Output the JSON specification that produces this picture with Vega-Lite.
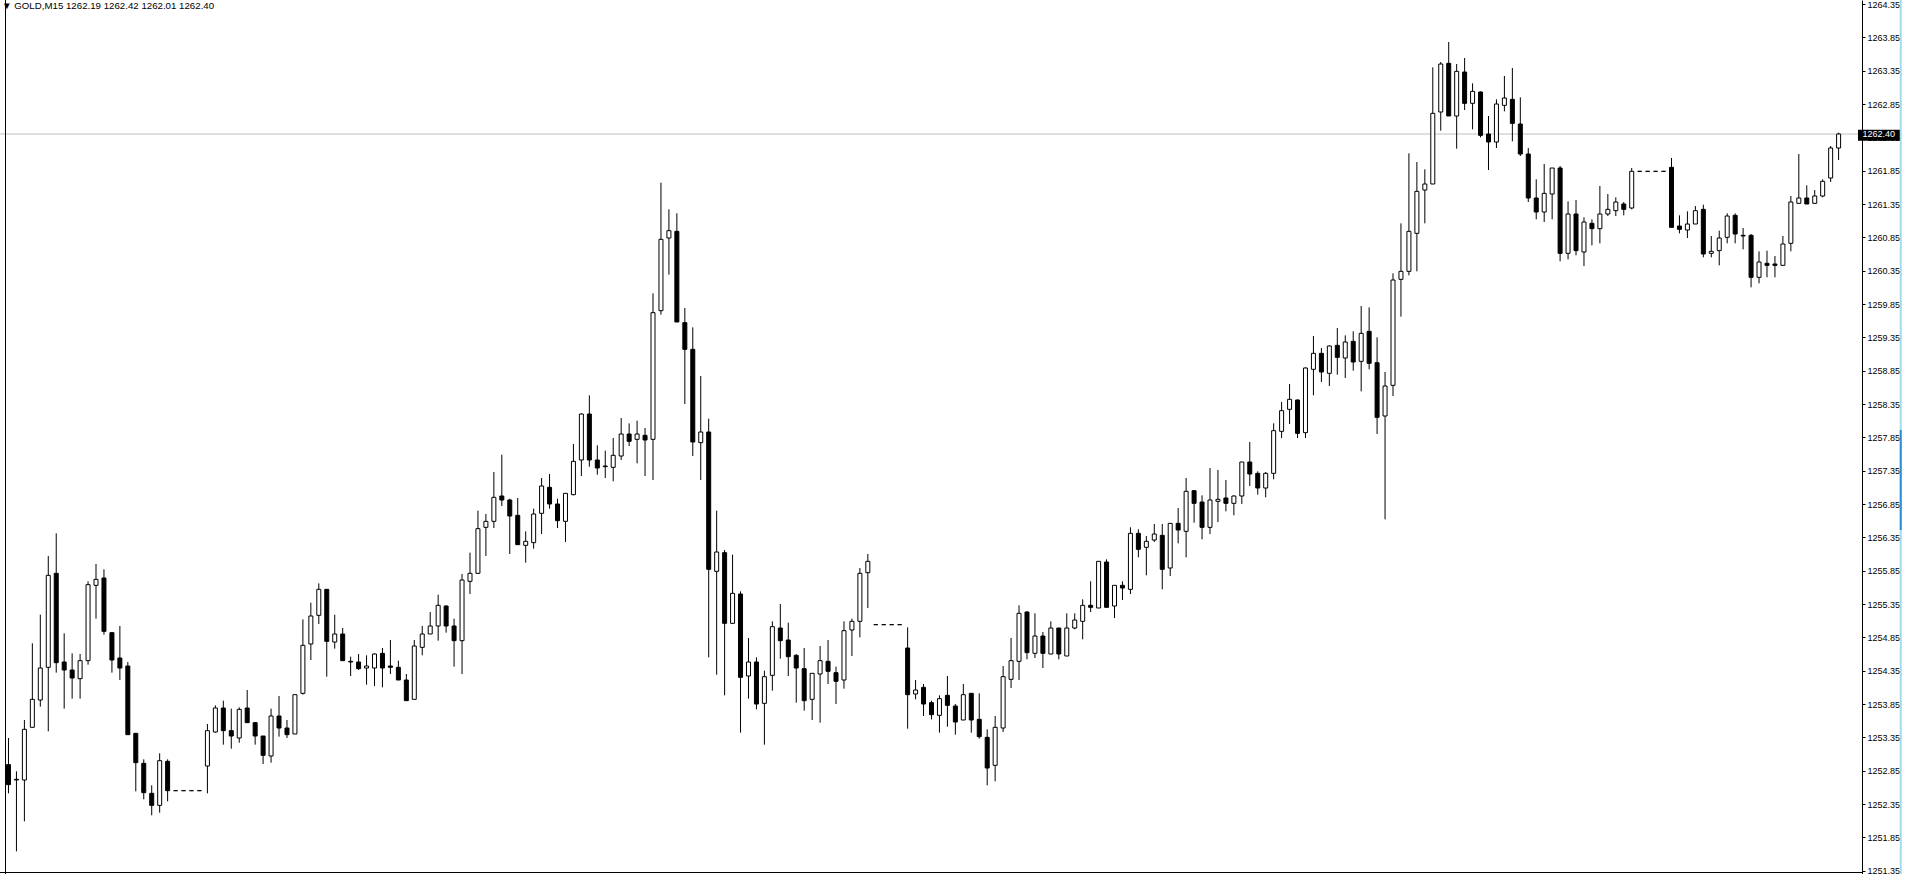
{
"$schema": "https://vega.github.io/schema/vega-lite/v6.json",
"width": 1862, "height": 874,
"autosize": {"type": "none"},
"padding": {"left": 0, "top": 0, "bottom": 0, "right": 48},
"background": "white",
"config": {"view": {"stroke": null}},
"title": {"text": "▼ GOLD,M15  1262.19 1262.42 1262.01 1262.40", "anchor": "start", "frame": "group", "orient": "top", "offset": -20, "baseline": "alphabetic", "dx": 2, "font": "Liberation Sans", "fontSize": 9.7, "fontWeight": "normal", "color": "black"},
"data": {"values": [
{"i":0,"o":1252.94,"h":1253.34,"l":1252.51,"c":1252.64},
{"i":1,"o":1252.72,"h":1252.84,"l":1251.64,"c":1252.71},
{"i":2,"o":1252.71,"h":1253.61,"l":1252.09,"c":1253.47},
{"i":3,"o":1253.50,"h":1254.76,"l":1253.50,"c":1253.92},
{"i":4,"o":1253.91,"h":1255.19,"l":1253.81,"c":1254.39},
{"i":5,"o":1254.40,"h":1256.07,"l":1253.44,"c":1255.78},
{"i":6,"o":1255.81,"h":1256.41,"l":1254.32,"c":1254.47},
{"i":7,"o":1254.48,"h":1254.91,"l":1253.78,"c":1254.36},
{"i":8,"o":1254.36,"h":1254.61,"l":1253.93,"c":1254.24},
{"i":9,"o":1254.23,"h":1254.60,"l":1253.93,"c":1254.50},
{"i":10,"o":1254.50,"h":1255.69,"l":1254.44,"c":1255.64},
{"i":11,"o":1255.63,"h":1255.95,"l":1255.13,"c":1255.72},
{"i":12,"o":1255.74,"h":1255.87,"l":1254.89,"c":1254.94},
{"i":13,"o":1254.92,"h":1254.92,"l":1254.32,"c":1254.51},
{"i":14,"o":1254.54,"h":1255.02,"l":1254.21,"c":1254.39},
{"i":15,"o":1254.42,"h":1254.48,"l":1253.39,"c":1253.39},
{"i":16,"o":1253.41,"h":1253.41,"l":1252.54,"c":1252.97},
{"i":17,"o":1252.96,"h":1253.02,"l":1252.42,"c":1252.52},
{"i":18,"o":1252.51,"h":1252.63,"l":1252.18,"c":1252.33},
{"i":19,"o":1252.33,"h":1253.11,"l":1252.22,"c":1253.00},
{"i":20,"o":1252.99,"h":1253.02,"l":1252.39,"c":1252.55},
{"i":21,"o":1252.55,"h":1252.55,"l":1252.55,"c":1252.55},
{"i":22,"o":1252.55,"h":1252.55,"l":1252.55,"c":1252.55},
{"i":23,"o":1252.55,"h":1252.55,"l":1252.55,"c":1252.55},
{"i":24,"o":1252.55,"h":1252.55,"l":1252.55,"c":1252.55},
{"i":25,"o":1252.92,"h":1253.55,"l":1252.51,"c":1253.45},
{"i":26,"o":1253.43,"h":1253.83,"l":1253.42,"c":1253.79},
{"i":27,"o":1253.79,"h":1253.90,"l":1253.24,"c":1253.45},
{"i":28,"o":1253.45,"h":1253.78,"l":1253.18,"c":1253.37},
{"i":29,"o":1253.34,"h":1253.80,"l":1253.27,"c":1253.77},
{"i":30,"o":1253.79,"h":1254.06,"l":1253.57,"c":1253.57},
{"i":31,"o":1253.57,"h":1253.58,"l":1253.24,"c":1253.37},
{"i":32,"o":1253.37,"h":1253.37,"l":1252.95,"c":1253.08},
{"i":33,"o":1253.07,"h":1253.78,"l":1252.97,"c":1253.67},
{"i":34,"o":1253.67,"h":1253.97,"l":1253.36,"c":1253.49},
{"i":35,"o":1253.49,"h":1253.61,"l":1253.34,"c":1253.39},
{"i":36,"o":1253.40,"h":1253.99,"l":1253.40,"c":1253.99},
{"i":37,"o":1254.01,"h":1255.12,"l":1253.99,"c":1254.73},
{"i":38,"o":1254.75,"h":1255.37,"l":1254.51,"c":1255.17},
{"i":39,"o":1255.18,"h":1255.66,"l":1255.05,"c":1255.57},
{"i":40,"o":1255.57,"h":1255.57,"l":1254.26,"c":1254.79},
{"i":41,"o":1254.78,"h":1255.19,"l":1254.68,"c":1254.90},
{"i":42,"o":1254.90,"h":1254.99,"l":1254.50,"c":1254.50},
{"i":43,"o":1254.49,"h":1254.56,"l":1254.27,"c":1254.48},
{"i":44,"o":1254.48,"h":1254.60,"l":1254.36,"c":1254.38},
{"i":45,"o":1254.39,"h":1254.58,"l":1254.14,"c":1254.42},
{"i":46,"o":1254.39,"h":1254.61,"l":1254.12,"c":1254.60},
{"i":47,"o":1254.61,"h":1254.69,"l":1254.10,"c":1254.39},
{"i":48,"o":1254.42,"h":1254.81,"l":1254.30,"c":1254.40},
{"i":49,"o":1254.40,"h":1254.50,"l":1254.21,"c":1254.21},
{"i":50,"o":1254.21,"h":1254.30,"l":1253.90,"c":1253.90},
{"i":51,"o":1253.92,"h":1254.81,"l":1253.92,"c":1254.72},
{"i":52,"o":1254.70,"h":1255.02,"l":1254.58,"c":1254.90},
{"i":53,"o":1254.90,"h":1255.23,"l":1254.90,"c":1255.02},
{"i":54,"o":1255.02,"h":1255.49,"l":1254.80,"c":1255.33},
{"i":55,"o":1255.32,"h":1255.33,"l":1254.92,"c":1255.02},
{"i":56,"o":1255.02,"h":1255.13,"l":1254.41,"c":1254.80},
{"i":57,"o":1254.80,"h":1255.80,"l":1254.30,"c":1255.71},
{"i":58,"o":1255.69,"h":1256.12,"l":1255.50,"c":1255.81},
{"i":59,"o":1255.81,"h":1256.75,"l":1255.80,"c":1256.48},
{"i":60,"o":1256.50,"h":1256.70,"l":1256.07,"c":1256.59},
{"i":61,"o":1256.59,"h":1257.33,"l":1256.49,"c":1256.95},
{"i":62,"o":1256.97,"h":1257.59,"l":1256.82,"c":1256.91},
{"i":63,"o":1256.91,"h":1256.93,"l":1256.10,"c":1256.67},
{"i":64,"o":1256.68,"h":1256.94,"l":1256.24,"c":1256.24},
{"i":65,"o":1256.23,"h":1256.44,"l":1255.97,"c":1256.29},
{"i":66,"o":1256.27,"h":1256.78,"l":1256.18,"c":1256.70},
{"i":67,"o":1256.71,"h":1257.24,"l":1256.40,"c":1257.12},
{"i":68,"o":1257.10,"h":1257.30,"l":1256.78,"c":1256.85},
{"i":69,"o":1256.85,"h":1256.93,"l":1256.49,"c":1256.60},
{"i":70,"o":1256.59,"h":1257.01,"l":1256.28,"c":1257.01},
{"i":71,"o":1256.99,"h":1257.75,"l":1256.98,"c":1257.49},
{"i":72,"o":1257.51,"h":1258.21,"l":1257.27,"c":1258.20},
{"i":73,"o":1258.20,"h":1258.48,"l":1257.41,"c":1257.51},
{"i":74,"o":1257.51,"h":1257.73,"l":1257.29,"c":1257.39},
{"i":75,"o":1257.42,"h":1257.65,"l":1257.24,"c":1257.41},
{"i":76,"o":1257.40,"h":1257.84,"l":1257.19,"c":1257.58},
{"i":77,"o":1257.57,"h":1258.14,"l":1257.51,"c":1257.90},
{"i":78,"o":1257.90,"h":1258.06,"l":1257.72,"c":1257.79},
{"i":79,"o":1257.82,"h":1258.10,"l":1257.46,"c":1257.90},
{"i":80,"o":1257.88,"h":1257.99,"l":1257.27,"c":1257.81},
{"i":81,"o":1257.82,"h":1260.01,"l":1257.21,"c":1259.72},
{"i":82,"o":1259.75,"h":1261.67,"l":1259.69,"c":1260.82},
{"i":83,"o":1260.84,"h":1261.27,"l":1260.29,"c":1260.95},
{"i":84,"o":1260.94,"h":1261.21,"l":1259.58,"c":1259.58},
{"i":85,"o":1259.57,"h":1259.79,"l":1258.35,"c":1259.17},
{"i":86,"o":1259.17,"h":1259.50,"l":1257.57,"c":1257.78},
{"i":87,"o":1257.77,"h":1258.77,"l":1257.21,"c":1257.93},
{"i":88,"o":1257.93,"h":1258.13,"l":1254.55,"c":1255.87},
{"i":89,"o":1255.84,"h":1256.75,"l":1254.29,"c":1256.13},
{"i":90,"o":1256.12,"h":1256.16,"l":1253.98,"c":1255.06},
{"i":91,"o":1255.06,"h":1256.09,"l":1255.05,"c":1255.51},
{"i":92,"o":1255.50,"h":1255.54,"l":1253.42,"c":1254.25},
{"i":93,"o":1254.27,"h":1254.84,"l":1253.93,"c":1254.48},
{"i":94,"o":1254.48,"h":1254.55,"l":1253.77,"c":1253.85},
{"i":95,"o":1253.86,"h":1254.35,"l":1253.24,"c":1254.26},
{"i":96,"o":1254.28,"h":1255.09,"l":1254.05,"c":1255.01},
{"i":97,"o":1254.99,"h":1255.35,"l":1254.53,"c":1254.80},
{"i":98,"o":1254.81,"h":1255.07,"l":1254.27,"c":1254.56},
{"i":99,"o":1254.58,"h":1254.60,"l":1253.87,"c":1254.39},
{"i":100,"o":1254.38,"h":1254.69,"l":1253.75,"c":1253.90},
{"i":101,"o":1253.92,"h":1254.31,"l":1253.61,"c":1254.31},
{"i":102,"o":1254.30,"h":1254.72,"l":1253.57,"c":1254.50},
{"i":103,"o":1254.49,"h":1254.81,"l":1254.15,"c":1254.34},
{"i":104,"o":1254.32,"h":1254.41,"l":1253.85,"c":1254.19},
{"i":105,"o":1254.21,"h":1255.09,"l":1254.08,"c":1254.95},
{"i":106,"o":1254.96,"h":1255.13,"l":1254.57,"c":1255.09},
{"i":107,"o":1255.09,"h":1255.89,"l":1254.85,"c":1255.81},
{"i":108,"o":1255.82,"h":1256.10,"l":1255.29,"c":1255.99},
{"i":109,"o":1255.04,"h":1255.04,"l":1255.04,"c":1255.04},
{"i":110,"o":1255.04,"h":1255.04,"l":1255.04,"c":1255.04},
{"i":111,"o":1255.04,"h":1255.04,"l":1255.04,"c":1255.04},
{"i":112,"o":1255.04,"h":1255.04,"l":1255.04,"c":1255.04},
{"i":113,"o":1254.69,"h":1255.00,"l":1253.48,"c":1253.99},
{"i":114,"o":1254.00,"h":1254.21,"l":1253.92,"c":1254.06},
{"i":115,"o":1254.10,"h":1254.15,"l":1253.67,"c":1253.85},
{"i":116,"o":1253.87,"h":1253.90,"l":1253.62,"c":1253.69},
{"i":117,"o":1253.68,"h":1253.98,"l":1253.42,"c":1253.93},
{"i":118,"o":1253.98,"h":1254.27,"l":1253.51,"c":1253.83},
{"i":119,"o":1253.82,"h":1253.85,"l":1253.39,"c":1253.58},
{"i":120,"o":1253.61,"h":1254.15,"l":1253.61,"c":1253.99},
{"i":121,"o":1254.01,"h":1254.01,"l":1253.42,"c":1253.61},
{"i":122,"o":1253.62,"h":1254.01,"l":1253.33,"c":1253.36},
{"i":123,"o":1253.35,"h":1253.47,"l":1252.63,"c":1252.89},
{"i":124,"o":1252.93,"h":1253.67,"l":1252.69,"c":1253.50},
{"i":125,"o":1253.49,"h":1254.42,"l":1253.43,"c":1254.26},
{"i":126,"o":1254.22,"h":1254.84,"l":1254.09,"c":1254.50},
{"i":127,"o":1254.49,"h":1255.33,"l":1254.21,"c":1255.21},
{"i":128,"o":1255.23,"h":1255.24,"l":1254.52,"c":1254.62},
{"i":129,"o":1254.61,"h":1255.21,"l":1254.54,"c":1254.87},
{"i":130,"o":1254.87,"h":1254.93,"l":1254.39,"c":1254.61},
{"i":131,"o":1254.60,"h":1255.09,"l":1254.60,"c":1254.99},
{"i":132,"o":1254.99,"h":1254.99,"l":1254.52,"c":1254.60},
{"i":133,"o":1254.57,"h":1255.21,"l":1254.57,"c":1254.99},
{"i":134,"o":1254.99,"h":1255.21,"l":1254.97,"c":1255.11},
{"i":135,"o":1255.09,"h":1255.42,"l":1254.82,"c":1255.33},
{"i":136,"o":1255.33,"h":1255.69,"l":1255.23,"c":1255.30},
{"i":137,"o":1255.29,"h":1255.99,"l":1255.29,"c":1255.99},
{"i":138,"o":1255.98,"h":1256.02,"l":1255.30,"c":1255.30},
{"i":139,"o":1255.32,"h":1255.63,"l":1255.14,"c":1255.63},
{"i":140,"o":1255.63,"h":1255.69,"l":1255.41,"c":1255.59},
{"i":141,"o":1255.57,"h":1256.50,"l":1255.50,"c":1256.41},
{"i":142,"o":1256.41,"h":1256.47,"l":1256.05,"c":1256.17},
{"i":143,"o":1256.20,"h":1256.37,"l":1255.78,"c":1256.29},
{"i":144,"o":1256.31,"h":1256.55,"l":1256.28,"c":1256.40},
{"i":145,"o":1256.38,"h":1256.55,"l":1255.57,"c":1255.87},
{"i":146,"o":1255.89,"h":1256.56,"l":1255.77,"c":1256.56},
{"i":147,"o":1256.56,"h":1256.79,"l":1256.26,"c":1256.46},
{"i":148,"o":1256.44,"h":1257.24,"l":1256.05,"c":1257.04},
{"i":149,"o":1257.05,"h":1257.05,"l":1256.57,"c":1256.86},
{"i":150,"o":1256.88,"h":1256.98,"l":1256.32,"c":1256.50},
{"i":151,"o":1256.50,"h":1257.39,"l":1256.40,"c":1256.91},
{"i":152,"o":1256.89,"h":1257.36,"l":1256.58,"c":1256.92},
{"i":153,"o":1256.94,"h":1257.21,"l":1256.74,"c":1256.86},
{"i":154,"o":1256.86,"h":1256.98,"l":1256.68,"c":1256.97},
{"i":155,"o":1256.97,"h":1257.48,"l":1256.85,"c":1257.48},
{"i":156,"o":1257.48,"h":1257.78,"l":1257.12,"c":1257.30},
{"i":157,"o":1257.31,"h":1257.34,"l":1256.99,"c":1257.09},
{"i":158,"o":1257.09,"h":1257.33,"l":1256.95,"c":1257.31},
{"i":159,"o":1257.31,"h":1258.06,"l":1257.22,"c":1257.95},
{"i":160,"o":1257.94,"h":1258.38,"l":1257.84,"c":1258.25},
{"i":161,"o":1258.27,"h":1258.65,"l":1258.05,"c":1258.42},
{"i":162,"o":1258.41,"h":1258.42,"l":1257.84,"c":1257.91},
{"i":163,"o":1257.92,"h":1258.90,"l":1257.84,"c":1258.89},
{"i":164,"o":1258.87,"h":1259.37,"l":1258.48,"c":1259.11},
{"i":165,"o":1259.11,"h":1259.19,"l":1258.68,"c":1258.83},
{"i":166,"o":1258.81,"h":1259.23,"l":1258.62,"c":1259.22},
{"i":167,"o":1259.23,"h":1259.49,"l":1258.79,"c":1259.05},
{"i":168,"o":1259.04,"h":1259.38,"l":1258.74,"c":1259.28},
{"i":169,"o":1259.29,"h":1259.44,"l":1258.85,"c":1258.98},
{"i":170,"o":1258.99,"h":1259.82,"l":1258.54,"c":1259.41},
{"i":171,"o":1259.44,"h":1259.80,"l":1258.87,"c":1258.96},
{"i":172,"o":1258.97,"h":1259.35,"l":1257.90,"c":1258.15},
{"i":173,"o":1258.17,"h":1258.83,"l":1256.62,"c":1258.62},
{"i":174,"o":1258.63,"h":1260.31,"l":1258.47,"c":1260.21},
{"i":175,"o":1260.22,"h":1261.06,"l":1259.66,"c":1260.34},
{"i":176,"o":1260.34,"h":1262.11,"l":1260.28,"c":1260.94},
{"i":177,"o":1260.91,"h":1261.98,"l":1260.34,"c":1261.54},
{"i":178,"o":1261.56,"h":1261.87,"l":1261.06,"c":1261.65},
{"i":179,"o":1261.65,"h":1263.40,"l":1261.65,"c":1262.71},
{"i":180,"o":1262.73,"h":1263.48,"l":1262.45,"c":1263.45},
{"i":181,"o":1263.46,"h":1263.78,"l":1262.67,"c":1262.67},
{"i":182,"o":1262.67,"h":1263.45,"l":1262.18,"c":1263.34},
{"i":183,"o":1263.33,"h":1263.54,"l":1262.76,"c":1262.86},
{"i":184,"o":1262.86,"h":1263.16,"l":1262.47,"c":1263.04},
{"i":185,"o":1263.03,"h":1263.04,"l":1262.35,"c":1262.38},
{"i":186,"o":1262.40,"h":1262.67,"l":1261.86,"c":1262.28},
{"i":187,"o":1262.28,"h":1262.92,"l":1262.19,"c":1262.85},
{"i":188,"o":1262.83,"h":1263.27,"l":1262.74,"c":1262.94},
{"i":189,"o":1262.92,"h":1263.39,"l":1262.29,"c":1262.56},
{"i":190,"o":1262.55,"h":1262.95,"l":1262.07,"c":1262.10},
{"i":191,"o":1262.10,"h":1262.19,"l":1261.38,"c":1261.44},
{"i":192,"o":1261.44,"h":1261.72,"l":1261.12,"c":1261.23},
{"i":193,"o":1261.23,"h":1261.95,"l":1261.08,"c":1261.51},
{"i":194,"o":1261.50,"h":1261.89,"l":1261.12,"c":1261.89},
{"i":195,"o":1261.89,"h":1261.92,"l":1260.49,"c":1260.61},
{"i":196,"o":1260.61,"h":1261.39,"l":1260.52,"c":1261.20},
{"i":197,"o":1261.20,"h":1261.41,"l":1260.58,"c":1260.65},
{"i":198,"o":1260.63,"h":1261.15,"l":1260.42,"c":1261.08},
{"i":199,"o":1261.06,"h":1261.12,"l":1260.73,"c":1260.98},
{"i":200,"o":1260.98,"h":1261.62,"l":1260.76,"c":1261.20},
{"i":201,"o":1261.20,"h":1261.50,"l":1261.17,"c":1261.27},
{"i":202,"o":1261.25,"h":1261.45,"l":1261.17,"c":1261.38},
{"i":203,"o":1261.35,"h":1261.38,"l":1261.18,"c":1261.27},
{"i":204,"o":1261.29,"h":1261.89,"l":1261.27,"c":1261.84},
{"i":205,"o":1261.84,"h":1261.84,"l":1261.84,"c":1261.84},
{"i":206,"o":1261.84,"h":1261.84,"l":1261.84,"c":1261.84},
{"i":207,"o":1261.84,"h":1261.84,"l":1261.84,"c":1261.84},
{"i":208,"o":1261.84,"h":1261.84,"l":1261.84,"c":1261.84},
{"i":209,"o":1261.90,"h":1262.04,"l":1261.00,"c":1261.00},
{"i":210,"o":1261.02,"h":1261.18,"l":1260.91,"c":1260.97},
{"i":211,"o":1260.96,"h":1261.24,"l":1260.84,"c":1261.05},
{"i":212,"o":1261.05,"h":1261.32,"l":1261.05,"c":1261.25},
{"i":213,"o":1261.27,"h":1261.34,"l":1260.55,"c":1260.60},
{"i":214,"o":1260.61,"h":1260.87,"l":1260.55,"c":1260.64},
{"i":215,"o":1260.65,"h":1260.95,"l":1260.43,"c":1260.84},
{"i":216,"o":1260.85,"h":1261.21,"l":1260.76,"c":1261.17},
{"i":217,"o":1261.18,"h":1261.21,"l":1260.76,"c":1260.90},
{"i":218,"o":1260.88,"h":1260.99,"l":1260.67,"c":1260.87},
{"i":219,"o":1260.88,"h":1260.90,"l":1260.10,"c":1260.25},
{"i":220,"o":1260.25,"h":1260.64,"l":1260.16,"c":1260.48},
{"i":221,"o":1260.46,"h":1260.65,"l":1260.25,"c":1260.43},
{"i":222,"o":1260.45,"h":1260.57,"l":1260.25,"c":1260.43},
{"i":223,"o":1260.43,"h":1260.87,"l":1260.43,"c":1260.75},
{"i":224,"o":1260.76,"h":1261.47,"l":1260.64,"c":1261.38},
{"i":225,"o":1261.36,"h":1262.10,"l":1261.36,"c":1261.44},
{"i":226,"o":1261.44,"h":1261.63,"l":1261.35,"c":1261.35},
{"i":227,"o":1261.36,"h":1261.56,"l":1261.35,"c":1261.47},
{"i":228,"o":1261.47,"h":1261.72,"l":1261.45,"c":1261.69},
{"i":229,"o":1261.74,"h":1262.22,"l":1261.68,"c":1262.19},
{"i":230,"o":1262.19,"h":1262.42,"l":1262.01,"c":1262.40}
]},
"encoding": {
  "x": {"field": "i", "type": "quantitative", "scale": {"domain": [-0.4375, 232.3125], "nice": false, "zero": false}, "axis": null},
  "y": {"field": "l", "type": "quantitative", "scale": {"domain": [1251.30, 1264.41], "nice": false, "zero": false},
        "axis": {"orient": "right", "title": null, "grid": false,
                 "values": [1264.35,1263.85,1263.35,1262.85,1262.35,1261.85,1261.35,1260.85,1260.35,1259.85,1259.35,1258.85,1258.35,1257.85,1257.35,1256.85,1256.35,1255.85,1255.35,1254.85,1254.35,1253.85,1253.35,1252.85,1252.35,1251.85,1251.35],
                 "format": ".2f", "tickSize": 3, "tickColor": "black", "domainColor": "black", "domainWidth": 1,
                 "labelFont": "Liberation Sans", "labelFontSize": 9, "labelColor": "black", "labelPadding": 2,
                 "labelFlush": false, "labelOverlap": false, "labelBaseline": "middle"}}
},
"layer": [
  {"data": {"values": [{"p": 1262.40}]}, "mark": {"type": "rule", "color": "#c0c0c0", "strokeWidth": 1},
   "encoding": {"x": null, "y": {"field": "p", "type": "quantitative"}}},
  {"data": {"values": [{"p": -0.375}]}, "mark": {"type": "rule", "color": "black", "strokeWidth": 1},
   "encoding": {"x": {"field": "p", "type": "quantitative"}, "y": null}},
  {"data": {"values": [{"p": 1251.3225}]}, "mark": {"type": "rule", "color": "black", "strokeWidth": 1},
   "encoding": {"x": null, "y": {"field": "p", "type": "quantitative"}}},
  {"data": {"values": [{"p": 237.81}]}, "mark": {"type": "rule", "color": "#9fdcef", "strokeWidth": 2},
   "encoding": {"x": {"field": "p", "type": "quantitative"}, "y": null}},
  {"data": {"values": [{"p": 237.81, "a": 1257.96, "b": 1256.46}]}, "mark": {"type": "rule", "color": "#2a8fd6", "strokeWidth": 2},
   "encoding": {"x": {"field": "p", "type": "quantitative"}, "y": {"field": "a", "type": "quantitative"}, "y2": {"field": "b"}}},
  {"mark": {"type": "rule", "color": "black", "strokeWidth": 1},
   "encoding": {"y": {"field": "l", "type": "quantitative"}, "y2": {"field": "h"}}},
  {"mark": {"type": "bar", "orient": "vertical", "width": 4, "stroke": "black", "strokeWidth": 1},
   "encoding": {"y": {"field": "o", "type": "quantitative"}, "y2": {"field": "c"},
                "fill": {"condition": {"test": "datum.c < datum.o", "value": "black"}, "value": "white"}}},
  {"data": {"values": [{"x1": 232.4375, "x2": 237.6875, "y1": 1262.465, "y2": 1262.30}]}, "mark": {"type": "rect", "color": "black", "opacity": 1},
   "encoding": {"x": {"field": "x1", "type": "quantitative"}, "x2": {"field": "x2"}, "y": {"field": "y1", "type": "quantitative"}, "y2": {"field": "y2"}}},
  {"data": {"values": [{"p": 1262.40, "t": "1262.40", "x": 235.06}]}, "mark": {"type": "text", "color": "white", "font": "Liberation Sans", "fontSize": 9, "align": "center", "baseline": "middle"},
   "encoding": {"x": {"field": "x", "type": "quantitative"}, "y": {"field": "p", "type": "quantitative"}, "text": {"field": "t"}}}
]
}
